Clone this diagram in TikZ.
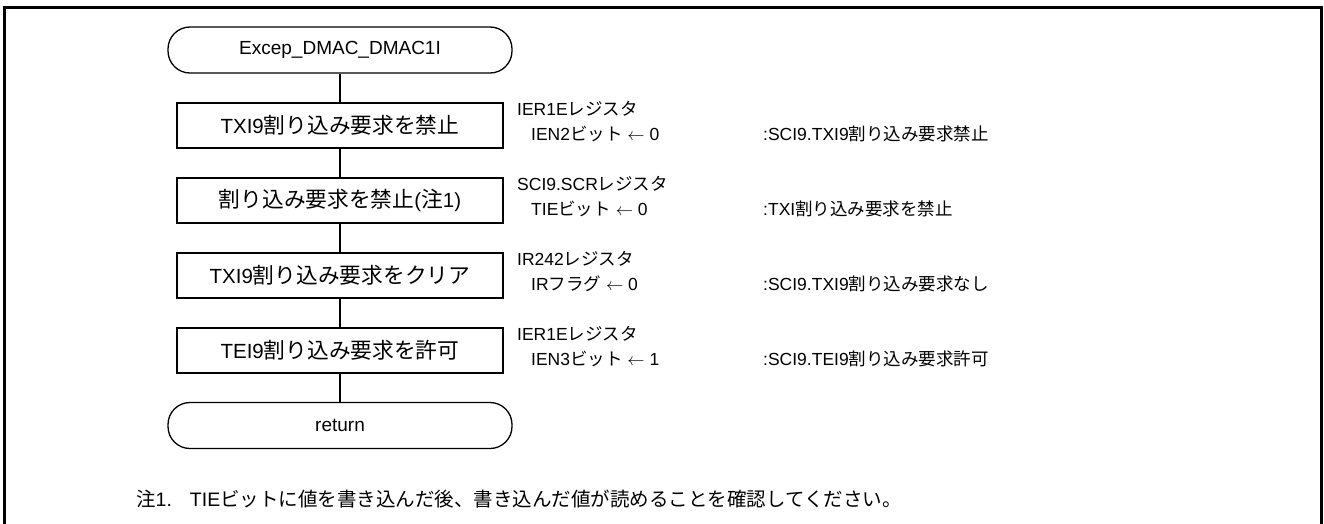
\documentclass[tikz,border=0pt]{standalone}
\usepackage{fontspec}
\setmainfont{Liberation Sans}
\newfontfamily\jp{Noto Sans CJK JP}
\newfontfamily\jpbig[Scale=1.06]{Noto Sans CJK JP}
\begin{document}
\begin{tikzpicture}[x=1pt,y=-1pt,
  font=\fontsize{20.5}{24}\selectfont,
  procbox/.style={draw, line width=1.3pt, minimum width=326pt, minimum height=45pt, inner sep=0pt},
  termbox/.style={procbox, rounded corners=22pt, minimum width=344pt, minimum height=46pt, font=\fontsize{19}{23}\selectfont},
  lnk/.style={line width=1.3pt},
  txt/.style={anchor=base west, inner sep=0pt, font=\fontsize{17.5}{21}\selectfont},
  notetxt/.style={anchor=base west, inner sep=0pt, font=\fontsize{19.5}{23}\selectfont}]
\useasboundingbox (0,0) rectangle (1324,524);
\begin{scope}
  \clip (0,0) rectangle (1324,524);
  \draw[line width=3pt] (4,8) rectangle (1321,560);
\end{scope}
% flow
\node[termbox] (start) at (340,50) {Excep\_DMAC\_DMAC1I};
\node[procbox] (p1) at (340,125.5) {TXI9{\jpbig 割り込み要求を禁止}};
\node[procbox] (p2) at (340,200.5) {{\jpbig 割り込み要求を禁止}({\jpbig 注}1)};
\node[procbox] (p3) at (340,275.5) {TXI9{\jpbig 割り込み要求をクリア}};
\node[procbox] (p4) at (340,350.5) {TEI9{\jpbig 割り込み要求を許可}};
\node[termbox] (ret) at (340,425.5) {return};
\draw[lnk] (start) -- (p1);
\draw[lnk] (p1) -- (p2);
\draw[lnk] (p2) -- (p3);
\draw[lnk] (p3) -- (p4);
\draw[lnk] (p4) -- (ret);
% register notes
\node[txt] (r1a) at (517,115.5) {IER1E{\jp レジスタ}};
\node[txt] (r1b) at (531,140.5) {IEN2{\jp ビット} $\leftarrow$ 0};
\node[txt] (c1) at (763,140.5) {:SCI9.TXI9{\jp 割り込み要求禁止}};
\node[txt] (r2a) at (517,190.5) {SCI9.SCR{\jp レジスタ}};
\node[txt] (r2b) at (531,215.5) {TIE{\jp ビット} $\leftarrow$ 0};
\node[txt] (c2) at (763,215.5) {:TXI{\jp 割り込み要求を禁止}};
\node[txt] (r3a) at (517,265.5) {IR242{\jp レジスタ}};
\node[txt] (r3b) at (531,290.5) {IR{\jp フラグ} $\leftarrow$ 0};
\node[txt] (c3) at (763,290.5) {:SCI9.TXI9{\jp 割り込み要求なし}};
\node[txt] (r4a) at (517,340.5) {IER1E{\jp レジスタ}};
\node[txt] (r4b) at (531,365.5) {IEN3{\jp ビット} $\leftarrow$ 1};
\node[txt] (c4) at (763,365.5) {:SCI9.TEI9{\jp 割り込み要求許可}};
% footnote
\node[notetxt] (note) at (136,506) {{\jp 注}1.\hspace{18pt}TIE{\jp ビットに値を書き込んだ後、書き込んだ値が読めることを確認してください。}};
\end{tikzpicture}
\end{document}
